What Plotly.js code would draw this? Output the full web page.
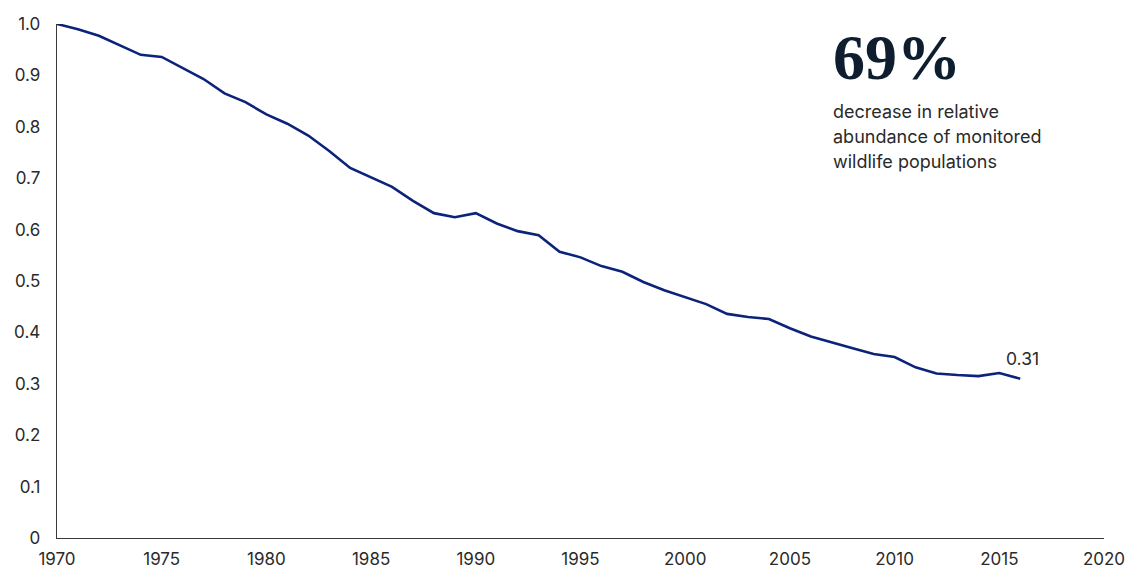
<!DOCTYPE html>
<html>
<head>
<meta charset="utf-8">
<script src="https://cdn.plot.ly/plotly-3.0.1.min.js"></script>
<style>
  html, body { margin: 0; padding: 0; background: #ffffff; }
  #chart { width: 1136px; height: 572px; }
</style>
</head>
<body>
<div id="chart"></div>
<script>
// Living Planet Index: relative abundance of monitored wildlife populations (1970 = 1.0)
const years = [
  1970, 1971, 1972, 1973, 1974, 1975, 1976, 1977, 1978, 1979,
  1980, 1981, 1982, 1983, 1984, 1985, 1986, 1987, 1988, 1989,
  1990, 1991, 1992, 1993, 1994, 1995, 1996, 1997, 1998, 1999,
  2000, 2001, 2002, 2003, 2004, 2005, 2006, 2007, 2008, 2009,
  2010, 2011, 2012, 2013, 2014, 2015, 2016
];
const index = [
  1.000, 0.990, 0.977, 0.959, 0.940, 0.936, 0.914, 0.893, 0.865, 0.848,
  0.824, 0.806, 0.783, 0.753, 0.720, 0.701, 0.683, 0.656, 0.632, 0.624,
  0.632, 0.612, 0.597, 0.589, 0.557, 0.546, 0.529, 0.518, 0.498, 0.482,
  0.468, 0.455, 0.436, 0.430, 0.426, 0.408, 0.392, 0.380, 0.369, 0.358,
  0.352, 0.332, 0.320, 0.317, 0.315, 0.321, 0.310
];
const xTicks = [1970, 1975, 1980, 1985, 1990, 1995, 2000, 2005, 2010, 2015, 2020];
const yTicks = [0, 0.1, 0.2, 0.3, 0.4, 0.5, 0.6, 0.7, 0.8, 0.9, 1.0];
const yTickText = ['0', '0.1', '0.2', '0.3', '0.4', '0.5', '0.6', '0.7', '0.8', '0.9', '1.0'];
const headline = '69%';
const caption = ['decrease in relative', 'abundance of monitored', 'wildlife populations'];

const lastIdx = years.length - 1;
const sansFont = 'Inter, "Liberation Sans", sans-serif';

const trace = {
  x: years,
  y: index,
  type: 'scatter',
  mode: 'lines',
  line: { color: '#0b2379', width: 2.6 },
  cliponaxis: false,
  hoverinfo: 'skip'
};

const annotations = [
  {
    x: years[lastIdx], y: index[lastIdx], xref: 'x', yref: 'y',
    text: index[lastIdx].toFixed(2), showarrow: false,
    xanchor: 'center', yanchor: 'bottom', yshift: 8, xshift: 2,
    font: { family: sansFont, size: 17.5, color: '#2a2a2a' }
  },
  {
    x: 0.7395, y: 1.0, xref: 'paper', yref: 'paper',
    text: '<b>' + headline + '</b>', showarrow: false,
    xanchor: 'left', yanchor: 'top', yshift: 4,
    font: { family: '"Liberation Serif", "DejaVu Serif", serif', size: 64, color: '#0e1e2e' }
  }
];
caption.forEach((line, i) => {
  annotations.push({
    x: 0.7395, y: 0.8305 - i * 0.0486, xref: 'paper', yref: 'paper',
    text: line, showarrow: false, xanchor: 'left', yanchor: 'middle',
    font: { family: sansFont, size: 18, color: '#2a2a2a' }
  });
});

const layout = {
  width: 1136,
  height: 572,
  margin: { l: 57, r: 32, t: 24, b: 34, pad: 0 },
  paper_bgcolor: '#ffffff',
  plot_bgcolor: '#ffffff',
  showlegend: false,
  xaxis: {
    range: [1970, 2020],
    tickvals: xTicks,
    ticktext: xTicks.map(String),
    showgrid: false,
    zeroline: false,
    showline: true,
    linecolor: '#3a3a3a',
    linewidth: 1.3,
    ticks: '',
    ticklabelstandoff: 5,
    tickfont: { family: sansFont, size: 17, color: '#2a2a2a' }
  },
  yaxis: {
    range: [0, 1],
    tickvals: yTicks,
    ticktext: yTickText,
    showgrid: false,
    zeroline: false,
    showline: true,
    linecolor: '#3a3a3a',
    linewidth: 1.3,
    ticks: '',
    ticklabelstandoff: 12,
    tickfont: { family: sansFont, size: 17, color: '#2a2a2a' }
  },
  annotations: annotations
};

Plotly.newPlot('chart', [trace], layout, { staticPlot: true, displayModeBar: false });
</script>
</body>
</html>
